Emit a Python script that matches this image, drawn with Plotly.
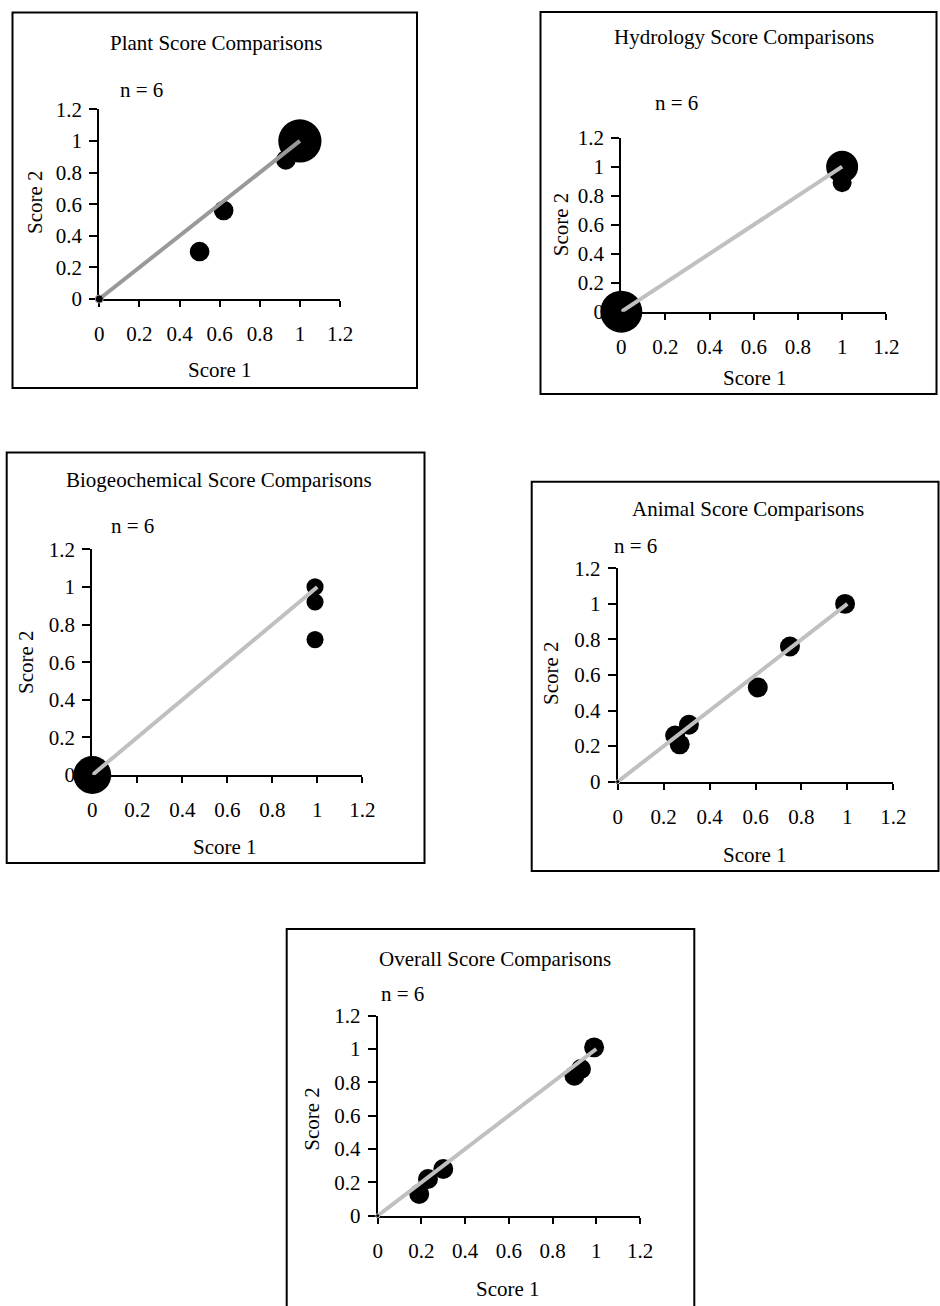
import plotly.graph_objects as go

# ---------------- data ----------------
ticks = [0, 0.2, 0.4, 0.6, 0.8, 1, 1.2]
tick_labels = ["0", "0.2", "0.4", "0.6", "0.8", "1", "1.2"]
ref_line = [0, 1]          # 1:1 reference line (Score 1 = Score 2)
n_label = "n = 6"
x_title = "Score 1"
y_title = "Score 2"

titles = [
    "Plant Score Comparisons",
    "Hydrology Score Comparisons",
    "Biogeochemical Score Comparisons",
    "Animal Score Comparisons",
    "Overall Score Comparisons",
]

plant_s1 = [0.50, 0.62, 0.93, 1.00]
plant_s2 = [0.30, 0.56, 0.88, 1.00]
plant_n = [1, 1, 1, 3]

hydro_s1 = [0.00, 1.00, 1.00]
hydro_s2 = [0.00, 1.00, 0.89]
hydro_n = [3, 2, 1]

bio_s1 = [0.00, 0.99, 0.99, 0.99]
bio_s2 = [0.00, 1.00, 0.92, 0.72]
bio_n = [3, 1, 1, 1]

animal_s1 = [0.25, 0.27, 0.31, 0.61, 0.75, 0.99]
animal_s2 = [0.26, 0.21, 0.32, 0.53, 0.76, 1.00]
animal_n = [1, 1, 1, 1, 1, 1]

overall_s1 = [0.19, 0.23, 0.30, 0.90, 0.93, 0.99]
overall_s2 = [0.13, 0.22, 0.28, 0.84, 0.88, 1.01]
overall_n = [1, 1, 1, 1, 1, 1]

series = [
    (plant_s1, plant_s2, plant_n),
    (hydro_s1, hydro_s2, hydro_n),
    (bio_s1, bio_s2, bio_n),
    (animal_s1, animal_s2, animal_n),
    (overall_s1, overall_s2, overall_n),
]

# ---------------- layout / style ----------------
W, H = 940, 1306
FONT = "Liberation Serif, Times New Roman, serif"
FS = 21
BUBBLE_PX = {1: 19, 2: 32, 3: 42}

panels = [
    dict(plot=(99.3, 109.3, 340.0, 299.0), frame=(12.5, 12.5, 417.0, 388.0),
         title=(215.5, 43.3), n=(141.7, 90.0), yt=(35.0, 202.0), xt=(220.0, 370.0),
         line="#999999", scale=1.03, dot=8),
    dict(plot=(621.3, 137.7, 886.3, 311.7), frame=(540.5, 12.0, 936.5, 394.0),
         title=(743.7, 36.7), n=(676.3, 102.7), yt=(561.3, 224.0), xt=(754.7, 378.3),
         line="#C0C0C0", scale=1.0, dot=0),
    dict(plot=(92.3, 549.3, 362.3, 775.0), frame=(6.7, 452.5, 424.5, 863.0),
         title=(218.7, 480.0), n=(132.7, 526.0), yt=(26.7, 662.3), xt=(225.0, 846.7),
         line="#C0C0C0", scale=0.9, dot=0),
    dict(plot=(617.7, 568.3, 893.3, 781.7), frame=(531.7, 481.7, 938.5, 871.0),
         title=(748.0, 509.3), n=(635.0, 546.0), yt=(551.7, 673.3), xt=(755.0, 855.0),
         line="#C0C0C0", scale=1.05, dot=4),
    dict(plot=(377.7, 1015.7, 640.0, 1215.7), frame=(286.7, 929.0, 694.3, 1312.0),
         title=(495.0, 959.3), n=(402.3, 994.3), yt=(311.7, 1119.0), xt=(507.7, 1289.3),
         line="#C0C0C0", scale=1.05, dot=4),
]


def fx(x):
    return x / W


def fy(y):
    return 1 - y / H


fig = go.Figure()
shapes = []
annotations = []
layout_axes = {}

for i, (p, (s1, s2, cnt)) in enumerate(zip(panels, series), start=1):
    xa = "x" if i == 1 else f"x{i}"
    ya = "y" if i == 1 else f"y{i}"
    sizes = [BUBBLE_PX[c] * p["scale"] for c in cnt]
    fig.add_trace(go.Scatter(
        x=s1, y=s2, mode="markers", xaxis=xa, yaxis=ya,
        marker=dict(color="black", size=sizes, opacity=1, line=dict(width=0)),
        cliponaxis=False, showlegend=False, hoverinfo="x+y",
    ))
    fig.add_trace(go.Scatter(
        x=ref_line, y=ref_line, mode="lines+markers", xaxis=xa, yaxis=ya,
        line=dict(color=p["line"], width=4),
        marker=dict(color="black", size=[p["dot"], 0], opacity=1),
        cliponaxis=False, showlegend=False, hoverinfo="skip",
    ))

    x0, y0, x1, y1 = p["plot"]
    axis_common = dict(
        range=[0, 1.2], tickmode="array", tickvals=ticks, ticktext=tick_labels,
        showline=True, linecolor="black", linewidth=2, ticks="outside",
        tickwidth=2, tickcolor="black", showgrid=False, zeroline=False,
        tickfont=dict(family=FONT, size=FS, color="black"),
        layer="below traces", fixedrange=True, automargin=False,
    )
    layout_axes["xaxis" if i == 1 else f"xaxis{i}"] = dict(
        axis_common, domain=[fx(x0), fx(x1)], anchor=ya, ticklen=6,
        ticklabelstandoff=9,
    )
    layout_axes["yaxis" if i == 1 else f"yaxis{i}"] = dict(
        axis_common, domain=[fy(y1), fy(y0)], anchor=xa, ticklen=8,
        ticklabelstandoff=3,
    )

    fx0, fy0, fx1, fy1 = p["frame"]
    shapes.append(dict(type="rect", xref="paper", yref="paper",
                       x0=fx(fx0), x1=fx(fx1), y0=fy(fy1), y1=fy(fy0),
                       line=dict(color="black", width=2), fillcolor="rgba(0,0,0,0)",
                       layer="below"))

    def ann(text, pos, angle=0):
        annotations.append(dict(
            text=text, x=fx(pos[0]), y=fy(pos[1]), xref="paper", yref="paper",
            xanchor="center", yanchor="middle", showarrow=False, textangle=angle,
            font=dict(family=FONT, size=FS, color="black"),
        ))

    ann(titles[i - 1], p["title"])
    ann(n_label, p["n"])
    ann(y_title, p["yt"], -90)
    ann(x_title, p["xt"])

fig.update_layout(
    width=W, height=H,
    margin=dict(l=0, r=0, t=0, b=0, pad=0, autoexpand=False),
    paper_bgcolor="white", plot_bgcolor="rgba(0,0,0,0)",
    shapes=shapes, annotations=annotations, showlegend=False,
    **layout_axes,
)

fig.write_html(
    "out.html",
    config={"displayModeBar": False},
    post_script="document.body.style.margin='0';document.body.style.padding='0';",
)
